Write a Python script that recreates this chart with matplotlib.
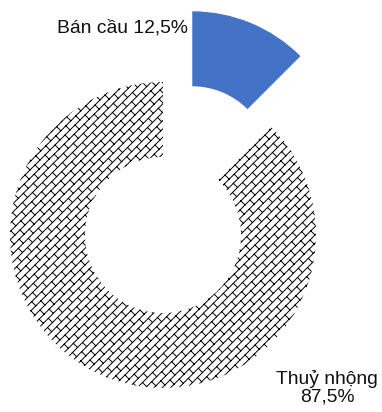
import numpy as np
import matplotlib
matplotlib.use("Agg")
import matplotlib.pyplot as plt
import matplotlib.hatch as mhatch
from matplotlib.path import Path

# --- data ---
labels = ["Bán cầu", "Thuỷ nhộng"]
values = [12.5, 87.5]
explode = [0.5, 0.0]


# --- diagonal brick hatch (replaces the '\' hatch) ---
class BrickHatch(mhatch.HatchPatternBase):
    def __init__(self, hatch, density):
        n = int(hatch.count('\\') * density)
        segs = []
        if n:
            L = 1.0 / 5  # brick length, in x+y units of the tile
            for k in range(-n, n + 1):
                c = k / n
                # long '/' line
                segs.append(((-c / 2 - 1, c / 2 - 1), (2 - c / 2, 2 + c / 2)))
                # short ticks to the next line, staggered per row
                c2 = (k + 1) / n
                off = (k % 2) * L / 2
                for t in np.arange(-1 + off, 3, L):
                    segs.append((((t - c) / 2, (t + c) / 2),
                                 ((t - c2) / 2, (t + c2) / 2)))
        self.segs = segs
        self.num_vertices = 2 * len(segs)

    def set_vertices_and_codes(self, vertices, codes):
        pts = np.array(self.segs).reshape(-1, 2)
        vertices[:] = pts
        codes[0::2] = Path.MOVETO
        codes[1::2] = Path.LINETO


mhatch._hatch_types[mhatch._hatch_types.index(mhatch.SouthEastHatch)] = BrickHatch

plt.rcParams['font.family'] = ['Liberation Sans', 'DejaVu Sans']
plt.rcParams['hatch.linewidth'] = 0.7

fig = plt.figure(figsize=(3.82, 4.12), dpi=100)
ax = fig.add_axes([0, 0, 1, 1])

wedges, _ = ax.pie(values, explode=explode, startangle=90, counterclock=False,
                   radius=1.0, wedgeprops=dict(width=0.49, linewidth=0))
wedges[0].set_facecolor('#4472C4')
wedges[0].set_edgecolor('#4472C4')
wedges[1].set_facecolor('white')
wedges[1].set_edgecolor('black')
wedges[1].set_hatch('\\\\')

def pct(v):
    return f"{v:.1f}".replace('.', ',') + "%"

ax.text(0.165, 1.353, f"{labels[0]} {pct(values[0])}", ha='right', va='center',
        fontsize=13.9, color='#111111')
ax.text(1.072, -1.0, f"{labels[1]}\n{pct(values[1])}", ha='center', va='center',
        fontsize=13.9, color='#111111', linespacing=1.05)

ax.set_xlim(-163 / 153, 219 / 153)
ax.set_ylim(-177 / 153, 235 / 153)
ax.set_aspect('auto')
ax.axis('off')

fig.savefig("out.png", dpi=100)
